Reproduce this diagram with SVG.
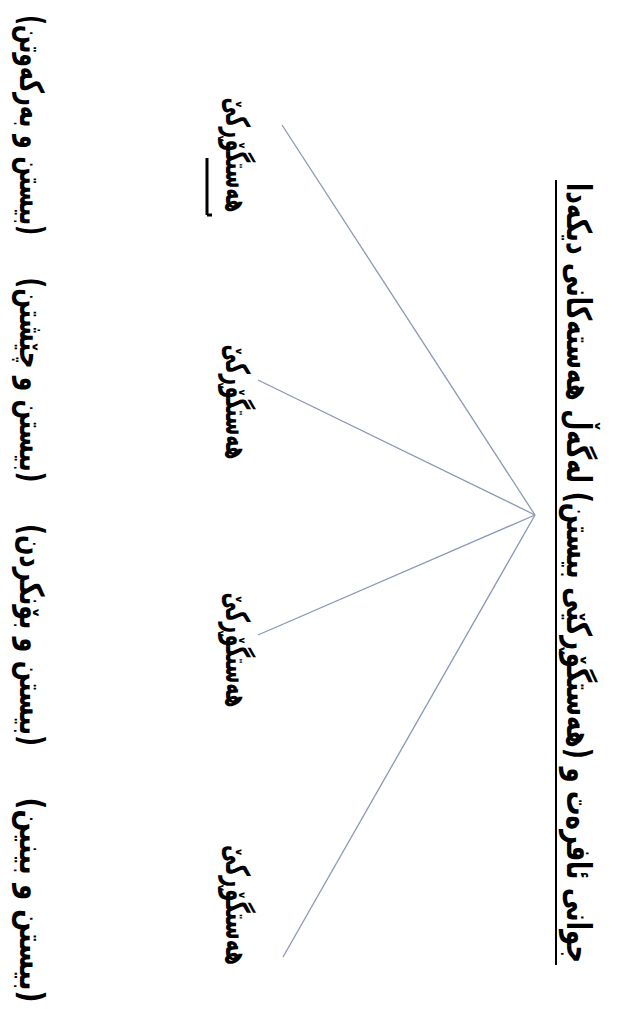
<svg xmlns="http://www.w3.org/2000/svg" width="642" height="1009" viewBox="0 0 642 1009">
<style>
.t{font-family:"DejaVu Sans",sans-serif;font-weight:bold;fill:#000;text-anchor:middle;direction:rtl}
.ttl{font-size:34px}
.nd{font-size:33px}
.lb{font-size:33px}
.c{stroke:#8a97b8;stroke-width:1.3;fill:none}
</style>
<rect width="642" height="1009" fill="#fff"/>
<g id="title">
<text class="t ttl" transform="translate(567,573) rotate(90)" textLength="780" lengthAdjust="spacingAndGlyphs">جوانی ئافرەت و (هەستگۆڕکێی بیستن) لەگەڵ هەستەکانی دیکەدا</text>
<line x1="556" y1="180" x2="556" y2="965" stroke="#000" stroke-width="2"/>
</g>
<g id="connectors">
<line class="c" x1="535" y1="515" x2="282" y2="125"/>
<line class="c" x1="535" y1="515" x2="258" y2="380"/>
<line class="c" x1="535" y1="515" x2="258" y2="635"/>
<line class="c" x1="535" y1="515" x2="283" y2="957"/>
</g>
<g id="n1">
<text class="t nd" transform="translate(226,155) rotate(90)" textLength="115" lengthAdjust="spacingAndGlyphs">هەستگۆڕکێ</text>
<path d="M207,158 V215 M207,215 H212" stroke="#000" stroke-width="3" fill="none"/>
</g>
<g id="n2"><text class="t nd" transform="translate(226,402) rotate(90)" textLength="115" lengthAdjust="spacingAndGlyphs">هەستگۆڕکێ</text></g>
<g id="n3"><text class="t nd" transform="translate(226,650) rotate(90)" textLength="115" lengthAdjust="spacingAndGlyphs">هەستگۆڕکێ</text></g>
<g id="n4"><text class="t nd" transform="translate(226,905) rotate(90)" textLength="120" lengthAdjust="spacingAndGlyphs">هەستگۆڕکێ</text></g>
<g id="l1"><text class="t lb" transform="translate(20,125) rotate(90)" textLength="220" lengthAdjust="spacingAndGlyphs">(بیستن و بەرکەوتن)</text></g>
<g id="l2"><text class="t lb" transform="translate(20,380) rotate(90)" textLength="205" lengthAdjust="spacingAndGlyphs">(بیستن و چێشتن)</text></g>
<g id="l3"><text class="t lb" transform="translate(20,635) rotate(90)" textLength="222" lengthAdjust="spacingAndGlyphs">(بیستن و بۆنکردن)</text></g>
<g id="l4"><text class="t lb" transform="translate(20,900) rotate(90)" textLength="205" lengthAdjust="spacingAndGlyphs">(بیستن و بینین)</text></g>
</svg>
